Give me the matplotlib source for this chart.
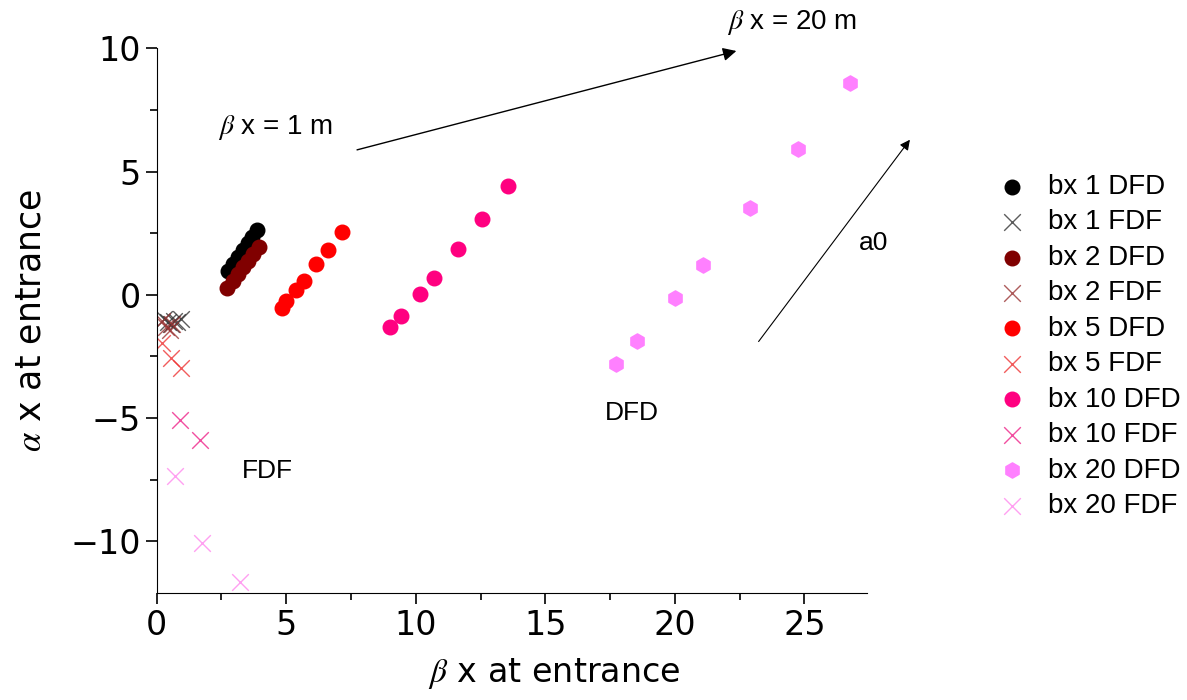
import matplotlib
matplotlib.use('Agg')
import matplotlib.pyplot as plt
from matplotlib.ticker import MultipleLocator

plt.rcParams['font.family'] = ['DejaVu Sans']
plt.rcParams['mathtext.fontset'] = 'stix'

# beta x / alpha x at entrance, DFD (filled) and FDF (crosses)
bx1_dfd_x = [2.74, 2.93, 3.12, 3.32, 3.51, 3.67, 3.86]
bx1_dfd_y = [0.98, 1.26, 1.54, 1.83, 2.11, 2.36, 2.64]
bx1_fdf_x = [0.30, 0.45, 0.55, 0.65, 0.80, 0.95]
bx1_fdf_y = [-1.00, -1.10, -1.20, -1.05, -1.10, -0.98]

bx2_dfd_x = [2.70, 2.93, 3.12, 3.32, 3.51, 3.71, 3.94]
bx2_dfd_y = [0.28, 0.57, 0.85, 1.14, 1.38, 1.67, 1.95]
bx2_fdf_x = [0.20, 0.35, 0.50, 0.60]
bx2_fdf_y = [-1.05, -1.30, -1.45, -1.20]

bx5_dfd_x = [4.82, 5.01, 5.36, 5.67, 6.14, 6.60, 7.14]
bx5_dfd_y = [-0.53, -0.24, 0.20, 0.57, 1.26, 1.83, 2.56]
bx5_fdf_x = [0.20, 0.54, 0.93]
bx5_fdf_y = [-1.95, -2.56, -2.97]

bx10_dfd_x = [9.0, 9.43, 10.16, 10.70, 11.63, 12.55, 13.55]
bx10_dfd_y = [-1.30, -0.85, 0.04, 0.69, 1.87, 3.09, 4.43]
bx10_fdf_x = [0.89, 1.66]
bx10_fdf_y = [-5.08, -5.89]

bx20_dfd_x = [17.72, 18.53, 20.0, 21.08, 22.89, 24.75, 26.75]
bx20_dfd_y = [-2.80, -1.87, -0.12, 1.22, 3.50, 5.93, 8.58]
bx20_fdf_x = [0.69, 1.74, 3.20]
bx20_fdf_y = [-7.36, -10.08, -11.67]

fig = plt.figure(figsize=(11.87, 7), dpi=100)
ax = fig.add_axes([0.132, 0.153, 0.598, 0.778])

ms = 110
ax.scatter(bx1_dfd_x, bx1_dfd_y, s=ms, c='black', marker='o', label='bx 1 DFD')
ax.scatter(bx1_fdf_x, bx1_fdf_y, s=ms * 1.3, c='#333333', marker='x', linewidths=1, alpha=0.8, label='bx 1 FDF')
ax.scatter(bx2_dfd_x, bx2_dfd_y, s=ms, c='#800000', marker='o', label='bx 2 DFD')
ax.scatter(bx2_fdf_x, bx2_fdf_y, s=ms * 1.3, c='#993333', marker='x', linewidths=1, alpha=0.8, label='bx 2 FDF')
ax.scatter(bx5_dfd_x, bx5_dfd_y, s=ms, c='#ff0000', marker='o', label='bx 5 DFD')
ax.scatter(bx5_fdf_x, bx5_fdf_y, s=ms * 1.3, c='#ee3333', marker='x', linewidths=1, alpha=0.8, label='bx 5 FDF')
ax.scatter(bx10_dfd_x, bx10_dfd_y, s=ms, c='#ff0080', marker='o', label='bx 10 DFD')
ax.scatter(bx10_fdf_x, bx10_fdf_y, s=ms * 1.3, c='#ee2288', marker='x', linewidths=1, alpha=0.8, label='bx 10 FDF')
ax.scatter(bx20_dfd_x, bx20_dfd_y, s=ms * 1.1, c='#ff80ff', marker='h', label='bx 20 DFD')
ax.scatter(bx20_fdf_x, bx20_fdf_y, s=ms * 1.3, c='#ff88ee', marker='x', linewidths=1, alpha=0.8, label='bx 20 FDF')

ax.set_xlim(0, 27.4)
ax.set_ylim(-12.1, 10)
ax.xaxis.set_major_locator(MultipleLocator(5))
ax.xaxis.set_minor_locator(MultipleLocator(2.5))
ax.yaxis.set_major_locator(MultipleLocator(5))
ax.yaxis.set_minor_locator(MultipleLocator(2.5))
ax.spines['top'].set_visible(False)
ax.spines['right'].set_visible(False)
ax.tick_params(which='major', direction='out', length=8, width=1.2, labelsize=24)
ax.tick_params(which='minor', direction='out', length=5, width=1.2)
ax.set_xlabel(r'$\beta$ x at entrance', fontsize=24, labelpad=10, x=0.56)
ax.set_ylabel(r'$\alpha$ x at entrance', fontsize=25, labelpad=16)

afont = ['Liberation Sans', 'DejaVu Sans']
ax.annotate('', xy=(22.48, 9.92), xytext=(7.63, 5.85),
            arrowprops=dict(arrowstyle='-|>', color='black', lw=1, mutation_scale=20),
            annotation_clip=False)
ax.annotate('', xy=(29.14, 6.38), xytext=(23.17, -1.99),
            arrowprops=dict(arrowstyle='-|>', color='black', lw=0.8, mutation_scale=15),
            annotation_clip=False)
ax.text(2.35, 6.8, r'$\beta$ x = 1 m', fontsize=20, family=afont, va='center')
ax.text(22.0, 11.05, r'$\beta$ x = 20 m', fontsize=20, family=afont, va='center', clip_on=False)
ax.text(27.1, 2.1, 'a0', fontsize=19, family=afont, va='center', clip_on=False)
ax.text(17.3, -4.8, 'DFD', fontsize=19, family=afont, va='center')
ax.text(3.3, -7.15, 'FDF', fontsize=19, family=afont, va='center')

fig.legend(loc='center left', bbox_to_anchor=(0.8315, 0.505), frameon=False,
           prop={'family': afont, 'size': 20}, labelspacing=0.34,
           handlelength=1.0, handletextpad=0.8, borderaxespad=0,
           scatterpoints=1)

fig.savefig('out.png', dpi=100)
